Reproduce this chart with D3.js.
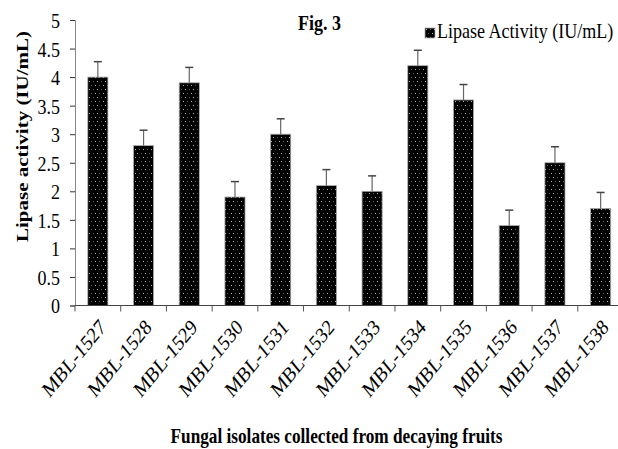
<!DOCTYPE html>
<html>
<head>
<meta charset="utf-8">
<script src="https://cdn.jsdelivr.net/npm/d3@7.9.0/dist/d3.min.js"></script>
<style>
  body { margin: 0; background: #fff; }
  svg { display: block; font-family: "Liberation Serif", "Times New Roman", serif; }
</style>
</head>
<body>
<svg id="chart" width="618" height="449"></svg>
<script>
// data
const isolates = ['MBL-1527', 'MBL-1528', 'MBL-1529', 'MBL-1530', 'MBL-1531', 'MBL-1532',
                  'MBL-1533', 'MBL-1534', 'MBL-1535', 'MBL-1536', 'MBL-1537', 'MBL-1538'];
const activity = [4.0, 2.8, 3.9, 1.9, 3.0, 2.1, 2.0, 4.2, 3.6, 1.4, 2.5, 1.7];
const errors = [0.27, 0.27, 0.27, 0.27, 0.27, 0.28, 0.27, 0.27, 0.27, 0.27, 0.28, 0.28];
const yTicks = [0, 0.5, 1, 1.5, 2, 2.5, 3, 3.5, 4, 4.5, 5];

const data = isolates.map((name, i) => ({ name, value: activity[i], err: errors[i] }));

const svg = d3.select('#chart');

const plot = { left: 75, right: 623.5, top: 20, bottom: 305.5 };
const squeeze = 0.82; // the original figure's text is narrow, like it was squeezed sideways

// bar pattern: black with faint dots
const defs = svg.append('defs');
const pat = defs.append('pattern')
    .attr('id', 'dots')
    .attr('patternUnits', 'userSpaceOnUse')
    .attr('width', 8)
    .attr('height', 8);
pat.append('rect').attr('width', 8).attr('height', 8).attr('fill', '#000');
[[1, 1, '#b5b5b5'], [5, 1, '#5a5a5a'], [3, 5, '#5a5a5a'], [7, 5, '#b5b5b5']].forEach(([px, py, c]) => {
    pat.append('rect').attr('x', px).attr('y', py).attr('width', 1).attr('height', 1).attr('fill', c);
});

const x = d3.scaleBand()
    .domain(isolates)
    .range([plot.left, plot.right])
    .paddingInner(0.56)
    .paddingOuter(0.28);

const y = d3.scaleLinear()
    .domain([0, 5])
    .range([plot.bottom, plot.top]);

// Y axis
const yAxis = svg.append('g')
    .attr('transform', `translate(${plot.left},0)`)
    .call(d3.axisLeft(y).tickValues(yTicks).tickFormat(d => String(d)).tickSize(5));
yAxis.select('.domain').attr('stroke', '#888');
yAxis.selectAll('.tick line').attr('stroke', '#333');
yAxis.selectAll('.tick text')
    .attr('x', null)
    .attr('dy', '0.34em')
    .attr('transform', `translate(-15,0) scale(${squeeze},1)`)
    .attr('font-size', 22)
    .attr('font-family', '"Liberation Serif", serif')
    .attr('fill', '#000');

// Bars
svg.append('g')
    .selectAll('rect')
    .data(data)
    .join('rect')
    .attr('x', d => x(d.name))
    .attr('y', d => y(d.value))
    .attr('width', x.bandwidth())
    .attr('height', d => y(0) - y(d.value))
    .attr('fill', 'url(#dots)')
    .attr('stroke', '#aaa')
    .attr('stroke-width', 0.8);

// Error bars
const eb = svg.append('g').selectAll('g')
    .data(data)
    .join('g');
eb.append('line')
    .attr('x1', d => x(d.name) + x.bandwidth() / 2)
    .attr('x2', d => x(d.name) + x.bandwidth() / 2)
    .attr('y1', d => y(d.value))
    .attr('y2', d => y(d.value + d.err))
    .attr('stroke', '#666')
    .attr('stroke-width', 1.2);
eb.append('line')
    .attr('x1', d => x(d.name) + x.bandwidth() / 2 - 4)
    .attr('x2', d => x(d.name) + x.bandwidth() / 2 + 4)
    .attr('y1', d => y(d.value + d.err))
    .attr('y2', d => y(d.value + d.err))
    .attr('stroke', '#444')
    .attr('stroke-width', 1.5);

// X axis with ticks between categories
const xg = svg.append('g');
xg.append('line')
    .attr('x1', plot.left).attr('x2', plot.right)
    .attr('y1', y(0)).attr('y2', y(0))
    .attr('stroke', '#444').attr('stroke-width', 1.2);
const bounds = d3.range(isolates.length + 1).map(i => plot.left + i * x.step());
xg.selectAll('line.tk')
    .data(bounds)
    .join('line')
    .attr('class', 'tk')
    .attr('x1', d => d).attr('x2', d => d)
    .attr('y1', y(0)).attr('y2', y(0) + 6)
    .attr('stroke', '#555');
xg.selectAll('text')
    .data(isolates)
    .join('text')
    .attr('transform', d => `translate(${x(d) + x.bandwidth() / 2 + 9},${y(0) + 23}) scale(${squeeze},1) rotate(-45)`)
    .attr('text-anchor', 'end')
    .attr('font-size', 22)
    .attr('fill', '#000')
    .text(d => d);

// Titles
svg.append('text')
    .attr('transform', `translate(319.5,30) scale(${squeeze},1)`)
    .attr('text-anchor', 'middle')
    .attr('font-size', 22)
    .attr('font-weight', 'bold')
    .text('Fig. 3');

svg.append('text')
    .attr('transform', `translate(28,136.5) scale(${squeeze},1) rotate(-90)`)
    .attr('text-anchor', 'middle')
    .attr('font-size', 21)
    .attr('font-weight', 'bold')
    .text('Lipase activity (IU/mL)');

svg.append('text')
    .attr('transform', `translate(336.5,443) scale(${squeeze},1)`)
    .attr('text-anchor', 'middle')
    .attr('font-size', 21)
    .attr('font-weight', 'bold')
    .text('Fungal isolates collected from decaying fruits');

// Legend
const lg = svg.append('g').attr('transform', 'translate(425,28)');
lg.append('rect')
    .attr('width', 10).attr('height', 10)
    .attr('fill', 'url(#dots)')
    .attr('stroke', '#aaa').attr('stroke-width', 0.8);
lg.append('text')
    .attr('transform', `translate(12,10) scale(${squeeze},1)`)
    .attr('font-size', 22)
    .text('Lipase Activity (IU/mL)');
</script>
</body>
</html>
